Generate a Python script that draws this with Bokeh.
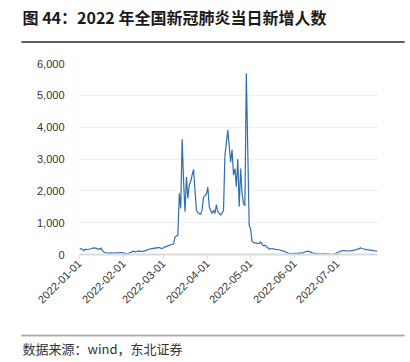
import math
import pandas as pd
from bokeh.plotting import figure
from bokeh.layouts import column
from bokeh.models import (Range1d, FixedTicker, DatetimeTickFormatter,
                          NumeralTickFormatter, ColumnDataSource)
from bokeh.core.properties import value
from bokeh.embed import file_html
from bokeh.resources import INLINE

title_text = "图 44：2022 年全国新冠肺炎当日新增人数"
source_text = "数据来源：wind，东北证券"

start_date = "2022-01-01"
jan = [190, 175, 167, 113, 167, 150, 165, 167, 180, 195, 210, 200, 190, 175, 157, 210,
       126, 80, 63, 55, 40, 45, 50, 42, 48, 50, 55, 45, 63, 58, 52]
feb = [50, 35, 25, 20, 45, 63, 90, 104, 82, 95, 105, 113, 100, 94, 105, 113, 130, 160,
       167, 175, 190, 185, 210, 200, 220, 215, 200, 190]
mar = [210, 240, 255, 270, 290, 300, 320, 330, 550, 580, 600, 1920, 1450, 3620, 2300,
       1340, 2440, 1760, 2180, 2300, 2500, 2670, 2020, 1390, 1310, 1290, 1260, 1400,
       1810, 1850, 1900]
apr = [2120, 1500, 1380, 1290, 1390, 1290, 1570, 1340, 1300, 1240, 1300, 1390, 3120,
       3500, 3910, 3400, 2900, 3300, 2500, 2700, 2130, 2990, 1500, 2700, 1920, 1600,
       1530, 5690, 3300, 920]
may = [800, 420, 370, 365, 360, 350, 346, 396, 324, 270, 292, 250, 220, 167, 180, 189,
       175, 165, 160, 157, 150, 135, 120, 104, 90, 70, 50, 40, 31, 35, 30]
jun = [35, 40, 31, 45, 50, 40, 60, 80, 95, 104, 90, 82, 60, 40, 35, 30, 25, 22, 20, 22,
       20, 25, 20, 20, 15, 10, 8, 12, 20, 40]
jul = [60, 80, 104, 115, 126, 120, 113, 110, 115, 113, 120, 130, 145, 150, 167, 175,
       210, 189, 180, 157, 160, 150, 140, 135, 130, 120, 113, 110, 104]

values = jan + feb + mar + apr + may + jun + jul
dates = pd.date_range(start_date, periods=len(values), freq="D")

tick_labels = ["2022-01-01", "2022-02-01", "2022-03-01", "2022-04-01",
               "2022-05-01", "2022-06-01", "2022-07-01"]
y_ticks = [0, 1000, 2000, 3000, 4000, 5000, 6000]

W = 405
CJK = "Noto Sans CJK SC"


def block_fig(h):
    f = figure(width=W, height=h, output_backend="svg", toolbar_location=None,
               x_axis_location=None, y_axis_location=None,
               x_range=Range1d(0, W), y_range=Range1d(h, 0),
               min_border=0, min_border_left=0, min_border_right=0,
               min_border_top=0, min_border_bottom=0, frame_align=False)
    f.grid.visible = False
    f.outline_line_color = None
    return f


# title block
TH = 46
t = block_fig(TH)
t.text(x=[22], y=[16], text=[title_text], text_font=value(CJK),
       text_font_style="bold", text_font_size="16px", text_color="#1a1a1a",
       text_baseline="middle", text_align="left")
t.quad(left=[21], right=[W - 1], top=[40.75], bottom=[42.25],
       fill_color="#555555", line_color=None)
t.segment(x0=[21], y0=[41.5], x1=[W - 1], y1=[41.5], line_color="#555555", line_width=1.5)

# main chart
src = ColumnDataSource(dict(x=dates, y=values))
p = figure(width=W, height=284, x_axis_type="datetime", output_backend="svg",
           toolbar_location=None, min_border_left=79, min_border_right=28,
           min_border_top=17, min_border_bottom=76, frame_align=False,
           x_range=Range1d(dates[0], dates[-1]), y_range=Range1d(0, 6000))
p.outline_line_color = None
p.line("x", "y", source=src, line_color="#2e6db3", line_width=1.2)

tick_ms = [pd.Timestamp(s).value // 10**6 for s in tick_labels]
p.xaxis.ticker = FixedTicker(ticks=tick_ms)
fmt = "%Y-%m-%d"
p.xaxis.formatter = DatetimeTickFormatter(days=fmt, months=fmt, years=fmt, hours=fmt,
                                          minutes=fmt, seconds=fmt, milliseconds=fmt,
                                          microseconds=fmt, minsec=fmt, hourmin=fmt)
p.xaxis.major_label_orientation = math.pi / 4
p.xaxis.axis_line_color = "#d9d9d9"
p.xaxis.axis_line_width = 2
p.xaxis.major_tick_line_color = "#d9d9d9"
p.xaxis.major_tick_in = 0
p.xaxis.major_tick_out = 4
p.xaxis.minor_tick_line_color = None
p.xaxis.major_label_text_font = "Liberation Sans"
p.xaxis.major_label_text_font_size = "11px"
p.xaxis.major_label_text_color = "#333333"
p.xaxis.major_label_standoff = 3

p.yaxis.ticker = FixedTicker(ticks=y_ticks)
p.yaxis.formatter = NumeralTickFormatter(format="0,0")
p.yaxis.axis_line_color = None
p.yaxis.major_tick_line_color = None
p.yaxis.minor_tick_line_color = None
p.yaxis.major_label_text_font = "Liberation Sans"
p.yaxis.major_label_text_font_size = "11px"
p.yaxis.major_label_text_color = "#333333"
p.yaxis.major_label_standoff = 9

p.xgrid.grid_line_color = None
p.ygrid.grid_line_color = "#e3e3e3"
p.ygrid.grid_line_dash = "2 2"

# footer block
FH = 32
ft = block_fig(FH)
ft.quad(left=[21], right=[W - 1], top=[4.25], bottom=[5.75],
        fill_color="#aaaaaa", line_color=None)
ft.segment(x0=[21], y0=[5], x1=[W - 1], y1=[5], line_color="#aaaaaa", line_width=1.5)
ft.text(x=[22], y=[18], text=[source_text], text_font=value(CJK),
        text_font_size="13px", text_color="#333333",
        text_baseline="middle", text_align="left")

layout = column(t, p, ft, spacing=0)
open("out.html", "w").write(file_html(layout, INLINE))
